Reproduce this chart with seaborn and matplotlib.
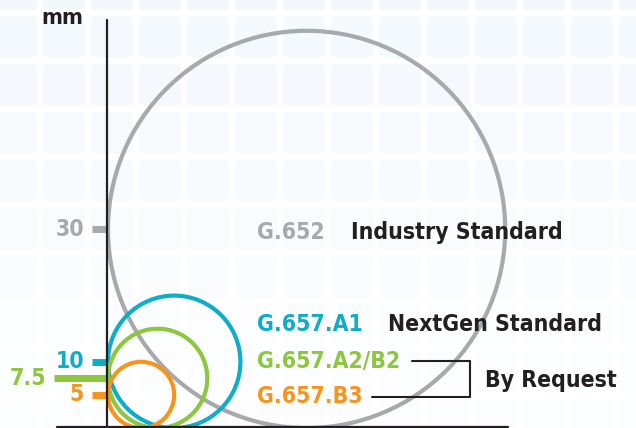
import numpy as np
import matplotlib
matplotlib.use("Agg")
import matplotlib.pyplot as plt
from matplotlib.patches import Circle, FancyBboxPatch
import seaborn as sns

# bend radius (mm) per fibre type
fibers = ["G.652", "G.657.A1", "G.657.A2/B2", "G.657.B3"]
radii = [30, 10, 7.5, 5]
tick_labels = ["30", "10", "7.5", "5"]
colors = ["#a7a9ac", "#0eadc8", "#8dc63f", "#f7941d"]
groups = ["Industry Standard", "NextGen Standard", "By Request"]

sns.set_style("white")
plt.rcParams["font.family"] = ["DejaVu Sans"]
plt.rcParams["font.stretch"] = "condensed"
ink = "#231f20"

fig = plt.figure(figsize=(6.36, 4.28), dpi=100)
ax = fig.add_axes([0, 0, 1, 1])
s = 6.62  # px per mm
ax.set_xlim(-108 / s, 528 / s)
ax.set_ylim(0, 428 / s)
ax.set_aspect("equal")
ax.axis("off")

# background tiles
for i, py in enumerate(range(-35, 428, 48)):
    for px in range(-8, 636, 48):
        a = 0.45 - 0.05 * i
        tile = FancyBboxPatch(((px + 3 - 108) / s, (428 - py - 45) / s), 42 / s, 42 / s,
                              boxstyle="round,pad=0,rounding_size=0.8",
                              fc="#e4f0fa", ec="none", alpha=max(a, 0.1), zorder=0)
        ax.add_patch(tile)

# circles tangent to both axes
for r, c, z in zip(radii, colors, [2, 3, 4, 5]):
    ax.add_patch(Circle((r, r), r, fill=False, ec=c, lw=3.0, zorder=z))

# axes
ax.plot([-0.2, -0.2], [0, 61.6], color=ink, lw=1.6, zorder=6)
ax.plot([-7.7, 60.4], [0.15, 0.15], color=ink, lw=1.6, zorder=6)
ax.text(-3.7, 61.9, "mm", ha="right", va="center", fontsize=16, fontweight="bold", color=ink)

# ticks
for r, lab, c in zip(radii, tick_labels, colors):
    x0 = -8.2 if lab == "7.5" else -2.4
    ax.plot([x0, -0.2], [r, r], color=c, lw=5, solid_capstyle="butt", zorder=5)
    ax.text(x0 - 1.2, r, lab, ha="right", va="center", fontsize=16.5,
            fontweight="bold", color=c)

# fibre labels
label_y = [29.6, 15.7, 10.0, 4.7]
for name, c, y in zip(fibers, colors, label_y):
    ax.text(22.5, y, name, ha="left", va="center", fontsize=16.5, fontweight="bold", color=c)

ax.text(36.7, 29.6, groups[0], ha="left", va="center", fontsize=16.5, fontweight="bold", color=ink)
ax.text(42.3, 15.7, groups[1], ha="left", va="center", fontsize=16.5, fontweight="bold", color=ink)
ax.text(57.0, 7.2, groups[2], ha="left", va="center", fontsize=16.5, fontweight="bold", color=ink)

# bracket
ax.plot([45.9, 54.7, 54.7, 39.9], [10.1, 10.1, 4.7, 4.7], color=ink, lw=1.5, zorder=6)

fig.savefig("out.png", dpi=100)
